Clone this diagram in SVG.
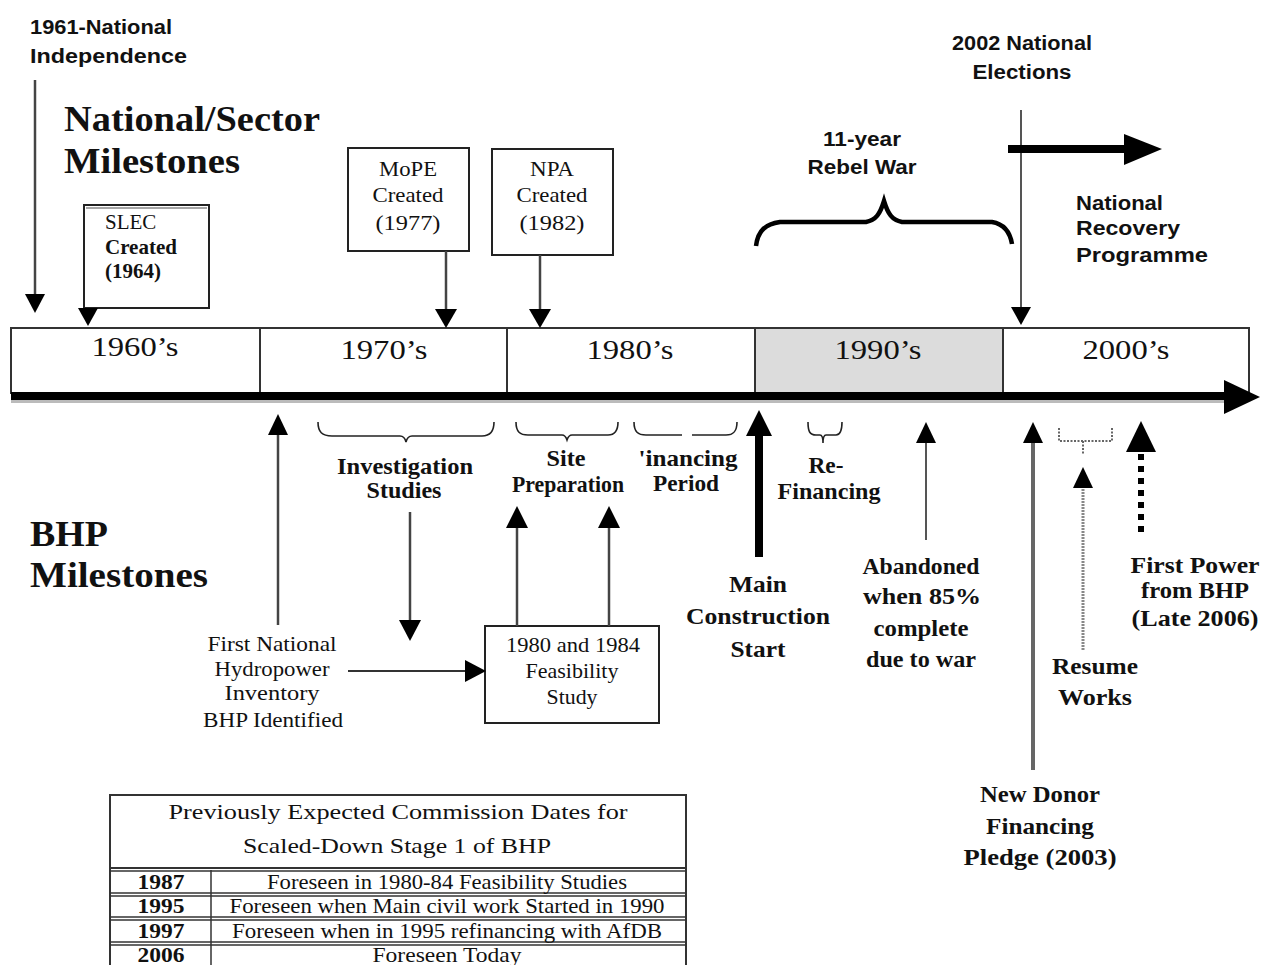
<svg xmlns="http://www.w3.org/2000/svg" width="1261" height="965" viewBox="0 0 1261 965">
<style>
.sb{font-family:"Liberation Sans",Arial,sans-serif;font-weight:bold;font-size:20px;fill:#111}
.rb{font-family:"Liberation Serif","Times New Roman",serif;font-weight:bold;font-size:23px;fill:#111}
.r{font-family:"Liberation Serif","Times New Roman",serif;font-size:21px;fill:#111}
.big{font-family:"Liberation Serif","Times New Roman",serif;font-weight:bold;font-size:36px;fill:#111}
.dec{font-family:"Liberation Serif","Times New Roman",serif;font-size:28px;fill:#111}
.m{text-anchor:middle}
.box{fill:#fff;stroke:#222;stroke-width:2}
.ln{stroke:#444;stroke-width:2.5;fill:none}
.br{stroke:#222;stroke-width:1.6;fill:none}
.hd{fill:#000}
</style>
<rect width="1261" height="965" fill="#fff"/>

<g id="axis">
<rect x="11" y="328" width="1238" height="65" fill="#fff" stroke="#333" stroke-width="2"/>
<rect x="755" y="329" width="248" height="63" fill="#dcdcdc"/>
<line x1="260" y1="328" x2="260" y2="393" stroke="#333" stroke-width="2"/>
<line x1="507" y1="328" x2="507" y2="393" stroke="#333" stroke-width="2"/>
<line x1="755" y1="328" x2="755" y2="393" stroke="#333" stroke-width="2"/>
<line x1="1003" y1="328" x2="1003" y2="393" stroke="#333" stroke-width="2"/>
<rect x="11" y="392" width="1220" height="8" fill="#000"/>
<rect x="11" y="400" width="1215" height="3" fill="#bbb"/>
<polygon points="1224,380 1260,397 1224,414" class="hd"/>
<text class="dec m" x="135" y="356" textLength="87" lengthAdjust="spacingAndGlyphs">1960’s</text>
<text class="dec m" x="384" y="359" textLength="87" lengthAdjust="spacingAndGlyphs">1970’s</text>
<text class="dec m" x="630" y="359" textLength="87" lengthAdjust="spacingAndGlyphs">1980’s</text>
<text class="dec m" x="878" y="359" textLength="87" lengthAdjust="spacingAndGlyphs">1990’s</text>
<text class="dec m" x="1126" y="359" textLength="87" lengthAdjust="spacingAndGlyphs">2000’s</text>
</g>

<g id="titles">
<text class="big" x="64" y="131" textLength="256" lengthAdjust="spacingAndGlyphs">National/Sector</text>
<text class="big" x="64" y="173" textLength="176" lengthAdjust="spacingAndGlyphs">Milestones</text>
<text class="big" x="30" y="546" textLength="78" lengthAdjust="spacingAndGlyphs">BHP</text>
<text class="big" x="30" y="587" textLength="178" lengthAdjust="spacingAndGlyphs">Milestones</text>
</g>

<g id="independence">
<text class="sb" x="30" y="34" textLength="142" lengthAdjust="spacingAndGlyphs">1961-National</text>
<text class="sb" x="30" y="63" textLength="157" lengthAdjust="spacingAndGlyphs">Independence</text>
</g>

<g id="slec">
<rect x="84" y="205" width="125" height="103" class="box"/>
<line x1="86" y1="208" x2="207" y2="208" stroke="#888" stroke-width="1.5"/>
<text class="r" x="105" y="229" font-size="20">SLEC</text>
<text class="r" x="105" y="254" font-size="20" font-weight="bold">Created</text>
<text class="r" x="105" y="278" font-size="20" font-weight="bold">(1964)</text>
</g>

<g id="mope">
<rect x="348" y="148" width="121" height="103" class="box"/>
<text class="r m" x="408" y="176" textLength="58" lengthAdjust="spacingAndGlyphs">MoPE</text>
<text class="r m" x="408" y="202" textLength="71" lengthAdjust="spacingAndGlyphs">Created</text>
<text class="r m" x="408" y="230" textLength="65" lengthAdjust="spacingAndGlyphs">(1977)</text>
</g>

<g id="npa">
<rect x="492" y="149" width="121" height="106" class="box"/>
<text class="r m" x="552" y="176" textLength="44" lengthAdjust="spacingAndGlyphs">NPA</text>
<text class="r m" x="552" y="202" textLength="71" lengthAdjust="spacingAndGlyphs">Created</text>
<text class="r m" x="552" y="230" textLength="65" lengthAdjust="spacingAndGlyphs">(1982)</text>
</g>

<g id="rebel-war">
<text class="sb m" x="862" y="146" textLength="78" lengthAdjust="spacingAndGlyphs">11-year</text>
<text class="sb m" x="862" y="174" textLength="109" lengthAdjust="spacingAndGlyphs">Rebel War</text>
</g>

<g id="elections">
<text class="sb m" x="1022" y="50" textLength="140" lengthAdjust="spacingAndGlyphs">2002 National</text>
<text class="sb m" x="1022" y="79" textLength="99" lengthAdjust="spacingAndGlyphs">Elections</text>
</g>

<g id="recovery">
<text class="sb" x="1076" y="210" textLength="87" lengthAdjust="spacingAndGlyphs">National</text>
<text class="sb" x="1076" y="235" textLength="104" lengthAdjust="spacingAndGlyphs">Recovery</text>
<text class="sb" x="1076" y="262" textLength="132" lengthAdjust="spacingAndGlyphs">Programme</text>
</g>

<g id="investigation">
<text class="rb m" x="405" y="474" textLength="136" lengthAdjust="spacingAndGlyphs">Investigation</text>
<text class="rb m" x="404" y="498" textLength="75" lengthAdjust="spacingAndGlyphs">Studies</text>
</g>

<g id="site-prep">
<text class="rb m" x="566" y="466" textLength="39" lengthAdjust="spacingAndGlyphs">Site</text>
<text class="rb m" x="568" y="492" textLength="112" lengthAdjust="spacingAndGlyphs">Preparation</text>
</g>

<g id="financing-period">
<text class="rb m" x="688" y="466" textLength="99" lengthAdjust="spacingAndGlyphs">'inancing</text>
<text class="rb m" x="686" y="491" textLength="66" lengthAdjust="spacingAndGlyphs">Period</text>
</g>

<g id="refinancing">
<text class="rb m" x="826" y="473" textLength="35" lengthAdjust="spacingAndGlyphs">Re-</text>
<text class="rb m" x="829" y="499" textLength="103" lengthAdjust="spacingAndGlyphs">Financing</text>
</g>

<g id="main-construction">
<text class="rb m" x="758" y="592" textLength="58" lengthAdjust="spacingAndGlyphs">Main</text>
<text class="rb m" x="758" y="624" textLength="144" lengthAdjust="spacingAndGlyphs">Construction</text>
<text class="rb m" x="758" y="657" textLength="55" lengthAdjust="spacingAndGlyphs">Start</text>
</g>

<g id="abandoned">
<text class="rb m" x="921" y="574" textLength="117" lengthAdjust="spacingAndGlyphs">Abandoned</text>
<text class="rb m" x="922" y="604" textLength="118" lengthAdjust="spacingAndGlyphs">when 85%</text>
<text class="rb m" x="921" y="636" textLength="95" lengthAdjust="spacingAndGlyphs">complete</text>
<text class="rb m" x="921" y="667" textLength="110" lengthAdjust="spacingAndGlyphs">due to war</text>
</g>

<g id="new-donor">
<text class="rb m" x="1040" y="802" textLength="120" lengthAdjust="spacingAndGlyphs">New Donor</text>
<text class="rb m" x="1040" y="834" textLength="108" lengthAdjust="spacingAndGlyphs">Financing</text>
<text class="rb m" x="1040" y="865" textLength="153" lengthAdjust="spacingAndGlyphs">Pledge (2003)</text>
</g>

<g id="resume-works">
<text class="rb m" x="1095" y="674" textLength="86" lengthAdjust="spacingAndGlyphs">Resume</text>
<text class="rb m" x="1095" y="705" textLength="74" lengthAdjust="spacingAndGlyphs">Works</text>
</g>

<g id="first-power">
<text class="rb m" x="1195" y="573" textLength="129" lengthAdjust="spacingAndGlyphs">First Power</text>
<text class="rb m" x="1195" y="598" textLength="108" lengthAdjust="spacingAndGlyphs">from BHP</text>
<text class="rb m" x="1195" y="626" textLength="127" lengthAdjust="spacingAndGlyphs">(Late 2006)</text>
</g>

<g id="inventory">
<text class="r m" x="272" y="651" textLength="129" lengthAdjust="spacingAndGlyphs">First National</text>
<text class="r m" x="272" y="676" textLength="115" lengthAdjust="spacingAndGlyphs">Hydropower</text>
<text class="r m" x="272" y="700" textLength="95" lengthAdjust="spacingAndGlyphs">Inventory</text>
<text class="r m" x="273" y="727" textLength="140" lengthAdjust="spacingAndGlyphs">BHP Identified</text>
</g>

<g id="feasibility">
<rect x="485" y="626" width="174" height="97" class="box"/>
<text class="r m" x="573" y="652" textLength="134" lengthAdjust="spacingAndGlyphs">1980 and 1984</text>
<text class="r m" x="572" y="678" textLength="93" lengthAdjust="spacingAndGlyphs">Feasibility</text>
<text class="r m" x="572" y="704" textLength="51" lengthAdjust="spacingAndGlyphs">Study</text>
</g>

<g id="table">
<rect x="110" y="795" width="576" height="175" fill="#fff" stroke="#333" stroke-width="2"/>
<line x1="110" y1="868" x2="686" y2="868" stroke="#333" stroke-width="2"/>
<line x1="110" y1="871" x2="686" y2="871" stroke="#333" stroke-width="1.5"/>
<line x1="110" y1="893" x2="686" y2="893" stroke="#333" stroke-width="1.5"/>
<line x1="110" y1="896" x2="686" y2="896" stroke="#333" stroke-width="1.5"/>
<line x1="110" y1="917" x2="686" y2="917" stroke="#333" stroke-width="1.5"/>
<line x1="110" y1="920" x2="686" y2="920" stroke="#333" stroke-width="1.5"/>
<line x1="110" y1="942" x2="686" y2="942" stroke="#333" stroke-width="1.5"/>
<line x1="110" y1="945" x2="686" y2="945" stroke="#333" stroke-width="1.5"/>
<line x1="211" y1="870" x2="211" y2="965" stroke="#333" stroke-width="1.5"/>
<text class="r m" x="398" y="819" font-size="22" textLength="459" lengthAdjust="spacingAndGlyphs">Previously Expected Commission Dates for</text>
<text class="r m" x="397" y="853" font-size="22" textLength="308" lengthAdjust="spacingAndGlyphs">Scaled-Down Stage 1 of BHP</text>
<text class="r m" x="161" y="889" font-size="20" font-weight="bold" textLength="47" lengthAdjust="spacingAndGlyphs">1987</text>
<text class="r m" x="447" y="889" font-size="20" textLength="360" lengthAdjust="spacingAndGlyphs">Foreseen in 1980-84 Feasibility Studies</text>
<text class="r m" x="161" y="913" font-size="20" font-weight="bold" textLength="47" lengthAdjust="spacingAndGlyphs">1995</text>
<text class="r m" x="447" y="913" font-size="20" textLength="435" lengthAdjust="spacingAndGlyphs">Foreseen when Main civil work Started in 1990</text>
<text class="r m" x="161" y="938" font-size="20" font-weight="bold" textLength="47" lengthAdjust="spacingAndGlyphs">1997</text>
<text class="r m" x="447" y="938" font-size="20" textLength="430" lengthAdjust="spacingAndGlyphs">Foreseen when in 1995 refinancing with AfDB</text>
<text class="r m" x="161" y="962" font-size="20" font-weight="bold" textLength="47" lengthAdjust="spacingAndGlyphs">2006</text>
<text class="r m" x="447" y="962" font-size="20" textLength="149" lengthAdjust="spacingAndGlyphs">Foreseen Today</text>
</g>

<g id="connectors">
<line x1="35" y1="80" x2="35" y2="296" class="ln"/>
<polygon points="25,294 45,294 35,313" class="hd"/>
<polygon points="78,308 98,308 88,326" class="hd"/>
<line x1="446" y1="251" x2="446" y2="312" class="ln"/>
<polygon points="435,309 457,309 446,328" class="hd"/>
<line x1="540" y1="255" x2="540" y2="312" class="ln"/>
<polygon points="529,309 551,309 540,328" class="hd"/>
<line x1="1021" y1="110" x2="1021" y2="310" stroke="#555" stroke-width="2"/>
<polygon points="1011,307 1031,307 1021,325" class="hd"/>
<line x1="1008" y1="149" x2="1128" y2="149" stroke="#000" stroke-width="8"/>
<polygon points="1124,134 1162,149 1124,165" class="hd"/>
<path d="M756,246 C758,230 766,224 780,222 L866,222 C876,220 880,214 884,201 C888,214 892,220 902,222 L992,222 C1004,224 1010,232 1012,244" stroke="#000" stroke-width="4.5" fill="none"/>
<line x1="278" y1="432" x2="278" y2="625" class="ln"/>
<polygon points="268,435 288,435 278,414" class="hd"/>
<path d="M318,422 C318,432 322,436 332,436 L400,436 C403,436 405,438 406,442 C407,438 409,436 412,436 L482,436 C490,436 494,432 494,422" class="br"/>
<path d="M516,422 C516,432 520,435 528,435 L562,435 C565,435 566,437 567,440 C568,437 569,435 572,435 L608,435 C614,435 618,432 618,422" class="br"/>
<path d="M634,422 C634,432 638,435 646,435 L682,435 M692,435 L726,435 C733,435 737,432 737,422" class="br"/>
<path d="M808,422 C808,432 810,435 816,435 L820,435 C822,435 823,438 823,443 C823,438 824,435 826,435 L836,435 C840,435 842,432 842,422" class="br"/>
<line x1="759" y1="432" x2="759" y2="557" stroke="#000" stroke-width="8"/>
<polygon points="746,436 772,436 759,410" class="hd"/>
<line x1="926" y1="440" x2="926" y2="540" stroke="#555" stroke-width="2"/>
<polygon points="916,443 936,443 926,422" class="hd"/>
<line x1="1033" y1="440" x2="1033" y2="770" stroke="#666" stroke-width="4"/>
<polygon points="1023,443 1043,443 1033,422" class="hd"/>
<path d="M1059,428 L1059,441 L1112,441 L1112,428 M1083,441 L1083,454" stroke="#666" stroke-width="2" stroke-dasharray="2,1.5" fill="none"/>
<line x1="1083" y1="486" x2="1083" y2="650" stroke="#888" stroke-width="3" stroke-dasharray="2,1"/>
<polygon points="1073,488 1093,488 1083,467" class="hd"/>
<line x1="1141" y1="454" x2="1141" y2="536" stroke="#000" stroke-width="6" stroke-dasharray="6,6"/>
<polygon points="1126,452 1156,452 1141,421" class="hd"/>
<line x1="410" y1="512" x2="410" y2="624" class="ln"/>
<polygon points="399,620 421,620 410,641" class="hd"/>
<line x1="348" y1="671" x2="468" y2="671" stroke="#333" stroke-width="2"/>
<polygon points="465,660 486,671 465,682" class="hd"/>
<line x1="517" y1="525" x2="517" y2="626" class="ln"/>
<polygon points="506,528 528,528 517,506" class="hd"/>
<line x1="609" y1="525" x2="609" y2="626" class="ln"/>
<polygon points="598,528 620,528 609,506" class="hd"/>
</g>
</svg>
